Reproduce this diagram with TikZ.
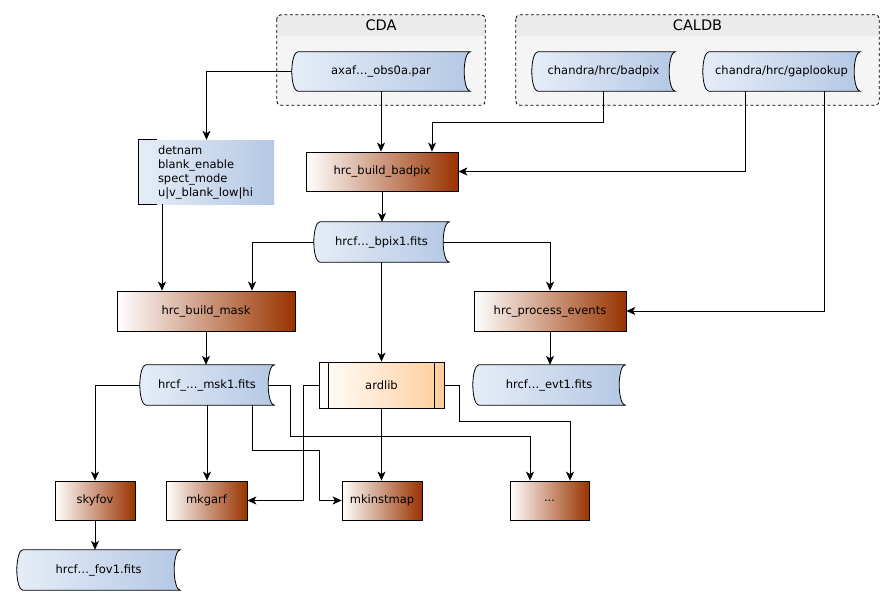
\documentclass[tikz,border=0pt]{standalone}
\usepackage{fontspec}
\setmainfont{DejaVu Sans}
\usetikzlibrary{arrows.meta}
\definecolor{bL}{HTML}{E6EDF8}
\definecolor{bR}{HTML}{B4C8E4}
\definecolor{brn}{HTML}{993300}
\definecolor{pch}{HTML}{FFCC99}
\definecolor{grpbody}{HTML}{F5F5F5}
\definecolor{grphead}{HTML}{EBEBEB}
\pgfdeclarelayer{grp}
\pgfdeclarelayer{shp}
\pgfsetlayers{grp,shp,main}
\newcommand{\datashape}[1]{%
  \shadedraw[left color=bL, right color=bR, line width=0.8pt]
   ([xshift=6pt]#1.north west) -- (#1.north east)
   .. controls +(-3.3pt,0pt) and +(0pt,11pt) .. ([xshift=-6pt]#1.east)
   .. controls +(0pt,-11pt) and +(-3.3pt,0pt) .. (#1.south east)
   -- ([xshift=6pt]#1.south west)
   .. controls +(-3.3pt,0pt) and +(0pt,-11pt) .. (#1.west)
   .. controls +(0pt,11pt) and +(-3.3pt,0pt) .. ([xshift=6pt]#1.north west) -- cycle;}
\newcommand{\groupbox}[1]{%
  \fill[grpbody, rounded corners=4pt] (#1.north west) rectangle (#1.south east);
  \begin{scope}
    \clip[rounded corners=4pt] (#1.north west) rectangle (#1.south east);
    \fill[grphead] (#1.north west) rectangle ([yshift=-21pt]#1.north east);
  \end{scope}
  \draw[line width=0.8pt, dash pattern=on 3pt off 2.5pt, rounded corners=4pt] (#1.north west) rectangle (#1.south east);}
\begin{document}
\begin{tikzpicture}[x=1pt,y=-1pt, font=\fontsize{11.5}{14}\selectfont,
  lw/.style={line width=0.8pt},
  arr/.style={lw, -{Stealth[length=9pt,width=8pt,inset=2.5pt]}},
  data/.style={minimum height=40pt, inner sep=0pt},
  proc/.style={draw, lw, left color=white, right color=brn, minimum height=40pt, inner sep=0pt},
  grpnode/.style={minimum height=90pt, inner sep=0pt},
  grptitle/.style={font=\fontsize{14.5}{16}\selectfont}]
\useasboundingbox (0,0) rectangle (895,605);

% groups
\node[grpnode, minimum width=208pt] (cda) at (381,60) {};
\node[grpnode, minimum width=363pt] (caldb) at (697.5,60) {};
\node[grptitle] (cdat) at ([yshift=-10.5pt]cda.north) {CDA};
\node[grptitle] (caldbt) at ([yshift=-10.5pt]caldb.north) {CALDB};
\begin{pgfonlayer}{grp}
  \groupbox{cda}
  \groupbox{caldb}
\end{pgfonlayer}

% nodes
\node[data, minimum width=178pt, minimum height=39pt] (axaf) at (381,71.5) {axaf…\_obs0a.par};
\node[data, minimum width=143pt, minimum height=39pt] (bpc) at (603.5,71.5) {chandra/hrc/badpix};
\node[data, minimum width=157pt, minimum height=39pt] (gap) at (781.5,71.5) {chandra/hrc/gaplookup};
\node[inner xsep=19pt, inner ysep=0pt, text width=97pt, minimum height=64pt, align=left,
      left color=bL, right color=bR] (param) at (206.5,172)
      {detnam\\blank\_enable\\spect\_mode\\u|v\_blank\_low|hi};
\draw[lw] ([xshift=18pt]param.north west) -- (param.north west) -- (param.south west) -- ([xshift=18pt]param.south west);
\node[proc, minimum width=152pt, minimum height=39pt] (hbb) at (382,171.5) {hrc\_build\_badpix};
\node[data, minimum width=135pt] (bpix) at (381.5,242) {hrcf…\_bpix1.fits};
\node[proc, minimum width=178pt] (hbm) at (206,311) {hrc\_build\_mask};
\node[proc, minimum width=152pt] (hpe) at (550,311) {hrc\_process\_events};
\node[data, minimum width=134pt] (msk) at (207,385) {hrcf\_…\_msk1.fits};
\node[draw, lw, left color=white, right color=pch, minimum width=125pt, minimum height=46pt, inner sep=0pt] (ard) at (381.5,385) {ardlib};
\draw[lw] ([xshift=10pt]ard.north west) -- ([xshift=10pt]ard.south west);
\draw[lw] ([xshift=-10pt]ard.north east) -- ([xshift=-10pt]ard.south east);
\node[data, minimum width=152pt] (evt) at (549,385) {hrcf…\_evt1.fits};
\node[proc, minimum width=80pt, minimum height=39pt] (sky) at (95,500.5) {skyfov};
\node[proc, minimum width=81pt, minimum height=39pt] (mkg) at (206.5,500.5) {mkgarf};
\node[proc, minimum width=80pt, minimum height=39pt] (mki) at (382,500.5) {mkinstmap};
\node[proc, minimum width=79pt, minimum height=39pt] (dots) at (549.5,500.5) {...};
\node[data, minimum width=163pt] (fov) at (98.5,570) {hrcf…\_fov1.fits};

\begin{pgfonlayer}{shp}
  \datashape{axaf}
  \datashape{bpc}
  \datashape{gap}
  \datashape{bpix}
  \datashape{msk}
  \datashape{evt}
  \datashape{fov}
\end{pgfonlayer}

% connectors
\draw[arr] (axaf.west) -| (param.north);
\draw[arr] (axaf.south) -- (axaf.south |- hbb.north);
\draw[arr] (bpc.south) -- ++(0,31) -| ([xshift=50pt]hbb.north);
\draw[arr] ([xshift=-36.5pt]gap.south) |- (hbb.east);
\draw[arr] ([xshift=42.5pt]gap.south) |- (hpe.east);
\coordinate (p1) at ([xshift=-44.5pt]param.south);
\draw[arr] (p1) -- (p1 |- hbm.north);
\draw[arr] (hbb.south) -- (hbb.south |- bpix.north);
\draw[arr] (bpix.west) -| ([xshift=46pt]hbm.north);
\draw[arr] ([xshift=-6pt]bpix.east) -| (hpe.north);
\draw[arr] (bpix.south) -- (bpix.south |- ard.north);
\draw[arr] (hbm.south) -- (hbm.south |- msk.north);
\draw[arr] (hpe.south) -- (hpe.south |- evt.north);
\draw[arr] (msk.west) -| (sky.north);
\draw[arr] (msk.south) -- (msk.south |- mkg.north);
\draw[arr] ([xshift=45pt]msk.south) -- ++(0,45) -| ([xshift=-22pt]mki.west) -- (mki.west);
\draw[arr] ([xshift=-6pt]msk.east) -- ++(22,0) -- ++(0,51) -| ([xshift=-19.5pt]dots.north);
\draw[arr] (ard.west) -- ++(-15,0) |- (mkg.east);
\draw[arr] (ard.south) -- (ard.south |- mki.north);
\draw[arr] (ard.east) -- ++(15,0) -- ++(0,36) -| ([xshift=20.5pt]dots.north);
\draw[arr] (sky.south) -- (sky.south |- fov.north);
\end{tikzpicture}
\end{document}
